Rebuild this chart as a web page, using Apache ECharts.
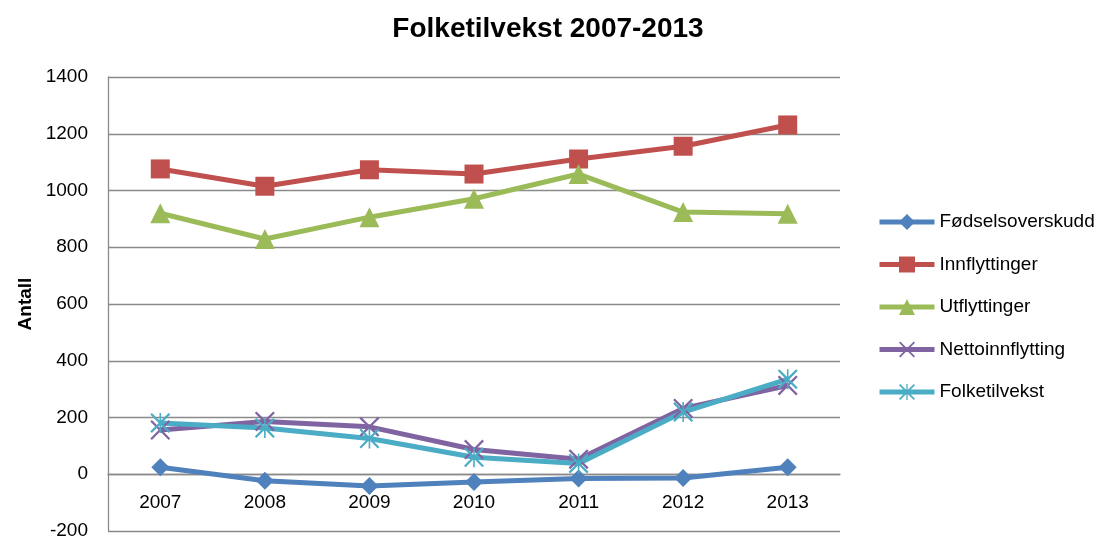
<!DOCTYPE html>
<html>
<head>
<meta charset="utf-8">
<script src="https://cdn.jsdelivr.net/npm/echarts@6/dist/echarts.min.js"></script>
<style>html,body{margin:0;padding:0;background:#fff;}#c{width:1096px;height:540px;}</style>
</head>
<body>
<div id="c"></div>
<script>
const categories = ['2007','2008','2009','2010','2011','2012','2013'];
const fodselsoverskudd = [25, -23, -41, -27, -15, -13, 25];
const innflyttinger = [1076, 1015, 1073, 1058, 1111, 1156, 1231];
const utflyttinger = [920, 829, 906, 971, 1058, 924, 918];
const nettoinnflytting = [156, 186, 167, 87, 53, 232, 313];
const folketilvekst = [181, 163, 126, 60, 38, 219, 335];
const yTicks = {min: -200, max: 1400, interval: 200};

const FONT = '"Liberation Sans", Arial, sans-serif';
const xPath = 'path://M0,1.6L1.6,0L10,8.4L18.4,0L20,1.6L11.6,10L20,18.4L18.4,20L10,11.6L1.6,20L0,18.4L8.4,10Z';
const starPath = 'path://M0,1.6L1.6,0L10,8.4L18.4,0L20,1.6L11.6,10L20,18.4L18.4,20L10,11.6L1.6,20L0,18.4L8.4,10Z M9.2,0L10.8,0L10.8,20L9.2,20Z';

const GRID_TOP = 77, GRID_BOTTOM = 9, H = 540;
const plotH = H - GRID_TOP - GRID_BOTTOM;
// distance from bottom of plot (value min) up to the zero line
const zeroOffset = plotH * (0 - yTicks.min) / (yTicks.max - yTicks.min);

function mk(name, data, color, symbol, size) {
  return {
    name: name, type: 'line', data: data,
    symbol: symbol, symbolSize: size,
    lineStyle: {color: color, width: 5},
    itemStyle: {color: color},
    emphasis: {disabled: true},
    animation: false
  };
}

const chart = echarts.init(document.getElementById('c'));
chart.setOption({
  backgroundColor: '#ffffff',
  animation: false,
  title: {
    text: 'Folketilvekst 2007-2013',
    left: 'center', top: 10,
    textStyle: {fontFamily: FONT, fontSize: 28, fontWeight: 'bold', color: '#000'}
  },
  grid: {left: 108, right: 256, top: GRID_TOP, bottom: GRID_BOTTOM, containLabel: false, outerBoundsMode: 'none'},
  legend: {
    orient: 'vertical', left: 872, top: 207,
    itemWidth: 55, itemHeight: 20, itemGap: 22.5,
    lineStyle: {width: 5},
    textStyle: {fontFamily: FONT, fontSize: 19, color: '#000', lineHeight: 20},
    data: ['Fødselsoverskudd','Innflyttinger','Utflyttinger','Nettoinnflytting','Folketilvekst']
  },
  xAxis: {
    type: 'category', data: categories, boundaryGap: true,
    offset: -zeroOffset,
    axisLine: {show: true, onZero: false, lineStyle: {color: '#8a8a8a', width: 1.3}},
    axisTick: {show: false},
    axisLabel: {fontFamily: FONT, fontSize: 19, color: '#000', margin: 19},
    splitLine: {show: false}
  },
  yAxis: {
    type: 'value', min: yTicks.min, max: yTicks.max, interval: yTicks.interval,
    name: 'Antall', nameLocation: 'middle', nameGap: 60, nameRotate: 90,
    nameTextStyle: {fontFamily: FONT, fontSize: 19, fontWeight: 'bold', color: '#000'},
    axisLine: {show: true, lineStyle: {color: '#8a8a8a', width: 1.3}},
    axisTick: {show: false},
    axisLabel: {fontFamily: FONT, fontSize: 19, color: '#000', margin: 20, formatter: function (v) { return String(v); }},
    splitLine: {show: true, lineStyle: {color: '#8a8a8a', width: 1.3}}
  },
  series: [
    mk('Fødselsoverskudd', fodselsoverskudd, '#4F81BD', 'diamond', 18),
    mk('Innflyttinger', innflyttinger, '#C0504D', 'rect', 19),
    mk('Utflyttinger', utflyttinger, '#9BBB59', 'triangle', 20),
    mk('Nettoinnflytting', nettoinnflytting, '#8064A2', xPath, 20),
    mk('Folketilvekst', folketilvekst, '#4BACC6', starPath, 20)
  ]
});
</script>
</body>
</html>
